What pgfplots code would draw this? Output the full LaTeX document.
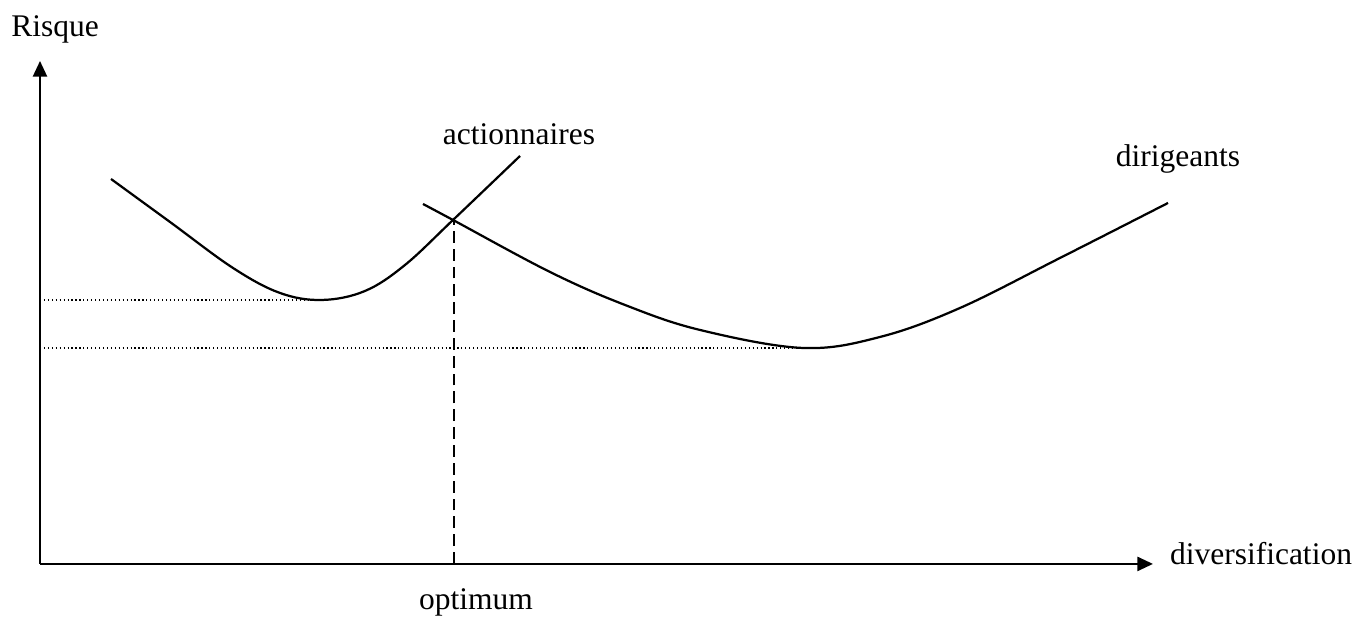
\documentclass[border=0pt,12pt]{standalone}
\usepackage{fontspec}
\setmainfont{Liberation Serif}
\usepackage{pgfplots}
\pgfplotsset{compat=1.18}
\usetikzlibrary{arrows.meta}

% curves, in picture units (1 unit = 1 px of the reference, y upwards)
\pgfplotstableread{
x y
111 440
170 397
233 351
280 326
322 319
365 328
405 354
453 399
520 463
}\actionnaires

\pgfplotstableread{
x y
423 415
453 399
550 347
625 314
700 289
803 271
880 282
960 311
1060 361
1168 416
}\dirigeants

\begin{document}
\begin{tikzpicture}
\begin{axis}[
    width=522.7pt, height=235.8pt,
    scale only axis,
    xmin=0, xmax=1372, ymin=0, ymax=619,
    hide axis,
    clip=false,
    every axis plot/.append style={line width=0.85pt, black},
  ]
  \addplot[draw=none] coordinates {(0,0) (1372,619)};
  % axes
  \addplot[-{Triangle[length=6pt,width=5.4pt]}] coordinates {(40,55) (1153,55)};
  \addplot[-{Triangle[length=6pt,width=5.4pt]}] coordinates {(40,55) (40,558)};
  % reference levels
  \addplot[line width=0.45pt, dash pattern=on 0.45pt off 1.05pt] coordinates {(40,319) (325,319)};
  \addplot[line width=0.45pt, dash pattern=on 0.45pt off 1.05pt] coordinates {(40,271) (808,271)};
  \addplot[dash pattern=on 4.5pt off 2.3pt] coordinates {(454,55) (454,399)};
  % curves
  \addplot[smooth, tension=0.6] table {\actionnaires};
  \addplot[smooth, tension=0.6] table {\dirigeants};
  % labels
  \node[anchor=base, inner sep=0pt] at (axis cs:55,582) {Risque};
  \node[anchor=base, inner sep=0pt] at (axis cs:1261,54) {diversification};
  \node[anchor=base, inner sep=0pt] at (axis cs:476,9) {optimum};
  \node[anchor=base, inner sep=0pt] at (axis cs:519,474) {actionnaires};
  \node[anchor=base, inner sep=0pt] at (axis cs:1178,452) {dirigeants};
\end{axis}
\end{tikzpicture}
\end{document}
